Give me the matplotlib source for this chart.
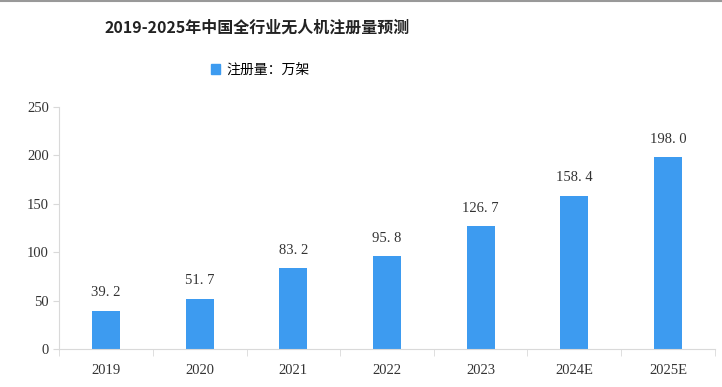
import matplotlib.pyplot as plt
from matplotlib.patches import Patch

years = ["2019", "2020", "2021", "2022", "2023", "2024E", "2025E"]
values = [39.2, 51.7, 83.2, 95.8, 126.7, 158.4, 198.0]
labels = ["39. 2", "51. 7", "83. 2", "95. 8", "126. 7", "158. 4", "198. 0"]

plt.rcParams['font.family'] = ['Noto Sans CJK SC', 'DejaVu Sans']

fig = plt.figure(figsize=(7.22, 3.87), dpi=100)
ax = fig.add_axes([0.082, 0.098, 0.908, 0.626])

bar_color = "#3d9bf0"
x = range(len(years))
ax.bar(x, values, width=0.3, color=bar_color)
for i, v in enumerate(values):
    ax.text(i, v + 12, labels[i], ha="center", va="bottom", fontsize=10.5,
            family="Liberation Serif", color="#333333")

ax.set_xlim(-0.5, len(years) - 0.5)
ax.set_ylim(0, 250)
ax.set_yticks(range(0, 251, 50))
ax.set_xticks(list(x))
ax.set_xticklabels(years, family="Liberation Serif", fontsize=10.5, color="#333333")
ax.set_xticks([i + 0.5 for i in range(-1, len(years))], minor=True)
ax.tick_params(axis="x", which="major", length=0, pad=11)
ax.tick_params(axis="x", which="minor", length=5, color="#d9d9d9")
ax.tick_params(axis="y", length=4, color="#d9d9d9", labelsize=10.5, labelcolor="#333333")
for t in ax.get_yticklabels():
    t.set_family("Liberation Serif")

for s in ["top", "right"]:
    ax.spines[s].set_visible(False)
for s in ["left", "bottom"]:
    ax.spines[s].set_color("#d9d9d9")

fig.text(0.356, 0.928, "2019-2025年中国全行业无人机注册量预测", ha="center", va="center",
         fontsize=11.5, fontweight="bold", color="#222222")
fig.legend(handles=[Patch(color=bar_color, label="注册量：万架")], loc="center",
           bbox_to_anchor=(0.36, 0.82), frameon=False, fontsize=10,
           handlelength=0.7, handleheight=0.7, handletextpad=0.4)

fig.add_artist(plt.Line2D([0, 1], [0.998, 0.998], color="#999999", lw=1.5))

fig.savefig("out.png", dpi=100)
